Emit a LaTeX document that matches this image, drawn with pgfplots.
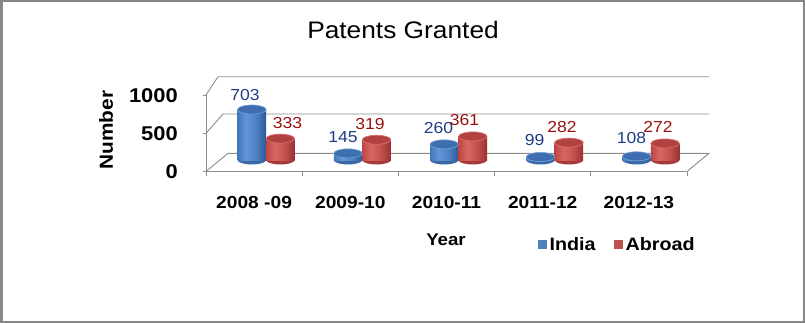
\documentclass[border=0pt]{standalone}
\usepackage{fontspec}
\setmainfont{Liberation Sans}[FakeStretch=1.1]
\usepackage{pgfplots}
\pgfplotsset{compat=1.18}
\usepackage{pgfplotstable}

\definecolor{frgray}{HTML}{878787}
\definecolor{gridgray}{HTML}{8C8C8C}
\definecolor{lblblue}{HTML}{1F3C86}
\definecolor{lblred}{HTML}{990F0F}
\definecolor{legblue}{HTML}{4F81BD}
\definecolor{legred}{HTML}{C0504D}
\definecolor{cb1}{HTML}{4177BD}
\definecolor{cb2}{HTML}{6397DA}
\definecolor{cb3}{HTML}{4C80C3}
\definecolor{cb4}{HTML}{2C5894}
\definecolor{cr1}{HTML}{BC4643}
\definecolor{cr2}{HTML}{D96663}
\definecolor{cr3}{HTML}{C2504D}
\definecolor{cr4}{HTML}{983130}
\definecolor{topblue}{HTML}{3E6EAF}
\definecolor{rimblue}{HTML}{6E9DD8}
\definecolor{topred}{HTML}{B1423F}
\definecolor{rimred}{HTML}{D8726E}
\definecolor{botblue}{HTML}{3A69A8}
\definecolor{botred}{HTML}{A63A37}

\pgfdeclarehorizontalshading{bluecyl}{100bp}{color(0bp)=(cb1); color(25bp)=(cb1); color(40bp)=(cb2); color(58bp)=(cb3); color(75bp)=(cb4); color(100bp)=(cb4)}
\pgfdeclarehorizontalshading{redcyl}{100bp}{color(0bp)=(cr1); color(25bp)=(cr1); color(40bp)=(cr2); color(58bp)=(cr3); color(75bp)=(cr4); color(100bp)=(cr4)}

\pgfdeclareplotmark{topL}{\pgfpathellipse{\pgfqpoint{-14.25bp}{0bp}}{\pgfqpoint{14.25bp}{0bp}}{\pgfqpoint{0bp}{4.5bp}}\pgfusepath{fill,stroke}}
\pgfdeclareplotmark{topR}{\pgfpathellipse{\pgfqpoint{14.25bp}{0bp}}{\pgfqpoint{14.25bp}{0bp}}{\pgfqpoint{0bp}{4.5bp}}\pgfusepath{fill,stroke}}
\pgfdeclareplotmark{botL}{\pgfpathellipse{\pgfqpoint{-14.25bp}{0bp}}{\pgfqpoint{14.25bp}{0bp}}{\pgfqpoint{0bp}{4.5bp}}\pgfusepath{fill}}
\pgfdeclareplotmark{botR}{\pgfpathellipse{\pgfqpoint{14.25bp}{0bp}}{\pgfqpoint{14.25bp}{0bp}}{\pgfqpoint{0bp}{4.5bp}}\pgfusepath{fill}}

\pgfplotstableread{
x india abroad dxi dyi dxa dya
0 703 333 -21 14.5 21.5 15.6
1 145 319 -19.3 16.4 7.7 16
2 260 361 -19.9 16 6 16.4
3 99 282 -20.2 17 7.3 16
4 108 272 -19.4 18 7.1 16.7
}\datatable

\begin{document}
\begin{tikzpicture}[x=1bp,y=1bp]
\path[use as bounding box] (0,0) rectangle (805,323);
\coordinate (FA) at (206,151.5);
\coordinate (BA) at (218,163);
\draw[frgray, line width=2bp] (1.5,1.5) rectangle (803.5,322);
% back wall and floor
\draw[gridgray, line width=0.9bp] (206,151.5) -- (228,169.7) -- (709,169.7) -- (687,151.5);
\draw[gridgray, line width=0.9bp] (206,189.75) -- (223,209) -- (709,209);
\draw[gridgray, line width=0.9bp] (206,228) -- (218,246.3) -- (709,246.3);

\begin{axis}[
  at={(FA)}, anchor=south west, scale only axis,
  width=481bp, height=76.5bp,
  xmin=-0.5, xmax=4.5, ymin=0, ymax=1000,
  axis x line*=bottom, axis y line*=left,
  axis line style={draw=gridgray, line width=0.9bp, -},
  tick style={draw=gridgray, line width=0.9bp},
  tick align=outside,
  xtick={0,...,4},
  xticklabels={2008 -09,2009-10,2010-11,2011-12,2012-13},
  major x tick style={draw=none},
  minor xtick={-0.5,0.5,...,4.5},
  minor tick length=4.5bp,
  ytick={0,500,1000},
  yticklabels={0,500,1000},
  major tick length=3bp,
  xticklabel style={anchor=base, yshift=-33.5bp, inner sep=0pt, font=\fontsize{17.5}{17.5}\selectfont\bfseries},
  yticklabel style={anchor=base east, xshift=-25bp, yshift=-7bp, inner sep=0pt, font=\fontsize{20}{20}\selectfont\bfseries},
  ylabel={Number},
  ylabel style={at={(axis description cs:-0.2079,0.5425)}, anchor=center, inner sep=0pt, font=\fontsize{19}{19}\selectfont\bfseries},
  xlabel={Year},
  xlabel style={at={(axis description cs:0.499,-0.961)}, anchor=base, inner sep=0pt, font=\fontsize{17}{17}\selectfont\bfseries},
  title={Patents Granted},
  title style={at={(axis description cs:0.4096,1.655)}, anchor=base, yshift=0pt, inner sep=0pt, font=\fontsize{24}{24}\selectfont},
  legend image code/.code={\fill[#1] (0bp,-4.5bp) rectangle (9bp,4.5bp);},
  legend style={at={(axis description cs:0.69,-0.954)}, anchor=west, draw=none, fill=none,
    inner sep=0pt, legend columns=2,
    font=\fontsize{18}{18}\selectfont\bfseries,
    nodes={inner xsep=2.5bp, inner ysep=0bp},
    /tikz/every even column/.append style={column sep=16bp}},
]
\addlegendimage{fill=legblue, draw=none}
\addlegendentry{India}
\addlegendimage{fill=legred, draw=none}
\addlegendentry{Abroad}
\end{axis}

\begin{axis}[
  at={(BA)}, anchor=south west, scale only axis,
  width=481bp, height=73.8bp,
  xmin=-0.5, xmax=4.5, ymin=61, ymax=1000,
  hide axis, clip mode=individual,
  /pgf/number format/assume math mode=true,
]
\addplot[only marks, mark=botL, mark options={fill=botblue, draw=none}] coordinates {(0,61) (1,61) (2,61) (3,61) (4,61)};
\addplot[only marks, mark=botR, mark options={fill=botred, draw=none}] coordinates {(0,61) (1,61) (2,61) (3,61) (4,61)};
\pgfplotsinvokeforeach{0,1,2,3,4}{
  \addplot[ybar, bar width=28.5bp, bar shift=-14.25bp, draw=none, shade, shading=bluecyl,
    restrict x to domain=#1:#1] table[x=x, y=india] {\datatable};
  \addplot[ybar, bar width=28.5bp, bar shift=14.25bp, draw=none, shade, shading=redcyl,
    restrict x to domain=#1:#1] table[x=x, y=abroad] {\datatable};
}
\addplot[only marks, mark=topL, mark options={fill=topblue, draw=rimblue, line width=0.7bp}] table[x=x, y=india] {\datatable};
\addplot[only marks, mark=topR, mark options={fill=topred, draw=rimred, line width=0.7bp}] table[x=x, y=abroad] {\datatable};
\addplot[draw=none, nodes near coords, point meta=y,
  visualization depends on={\thisrow{dxi} \as \dx},
  visualization depends on={\thisrow{dyi} \as \dy},
  nodes near coords style={anchor=center, xshift=\dx*1bp, yshift=\dy*1bp, inner sep=0pt, text=lblblue, font=\fontsize{16}{16}\selectfont}]
  table[x=x, y=india] {\datatable};
\addplot[draw=none, nodes near coords, point meta=y,
  visualization depends on={\thisrow{dxa} \as \dx},
  visualization depends on={\thisrow{dya} \as \dy},
  nodes near coords style={anchor=center, xshift=\dx*1bp, yshift=\dy*1bp, inner sep=0pt, text=lblred, font=\fontsize{16}{16}\selectfont}]
  table[x=x, y=abroad] {\datatable};
\end{axis}
\end{tikzpicture}
\end{document}
